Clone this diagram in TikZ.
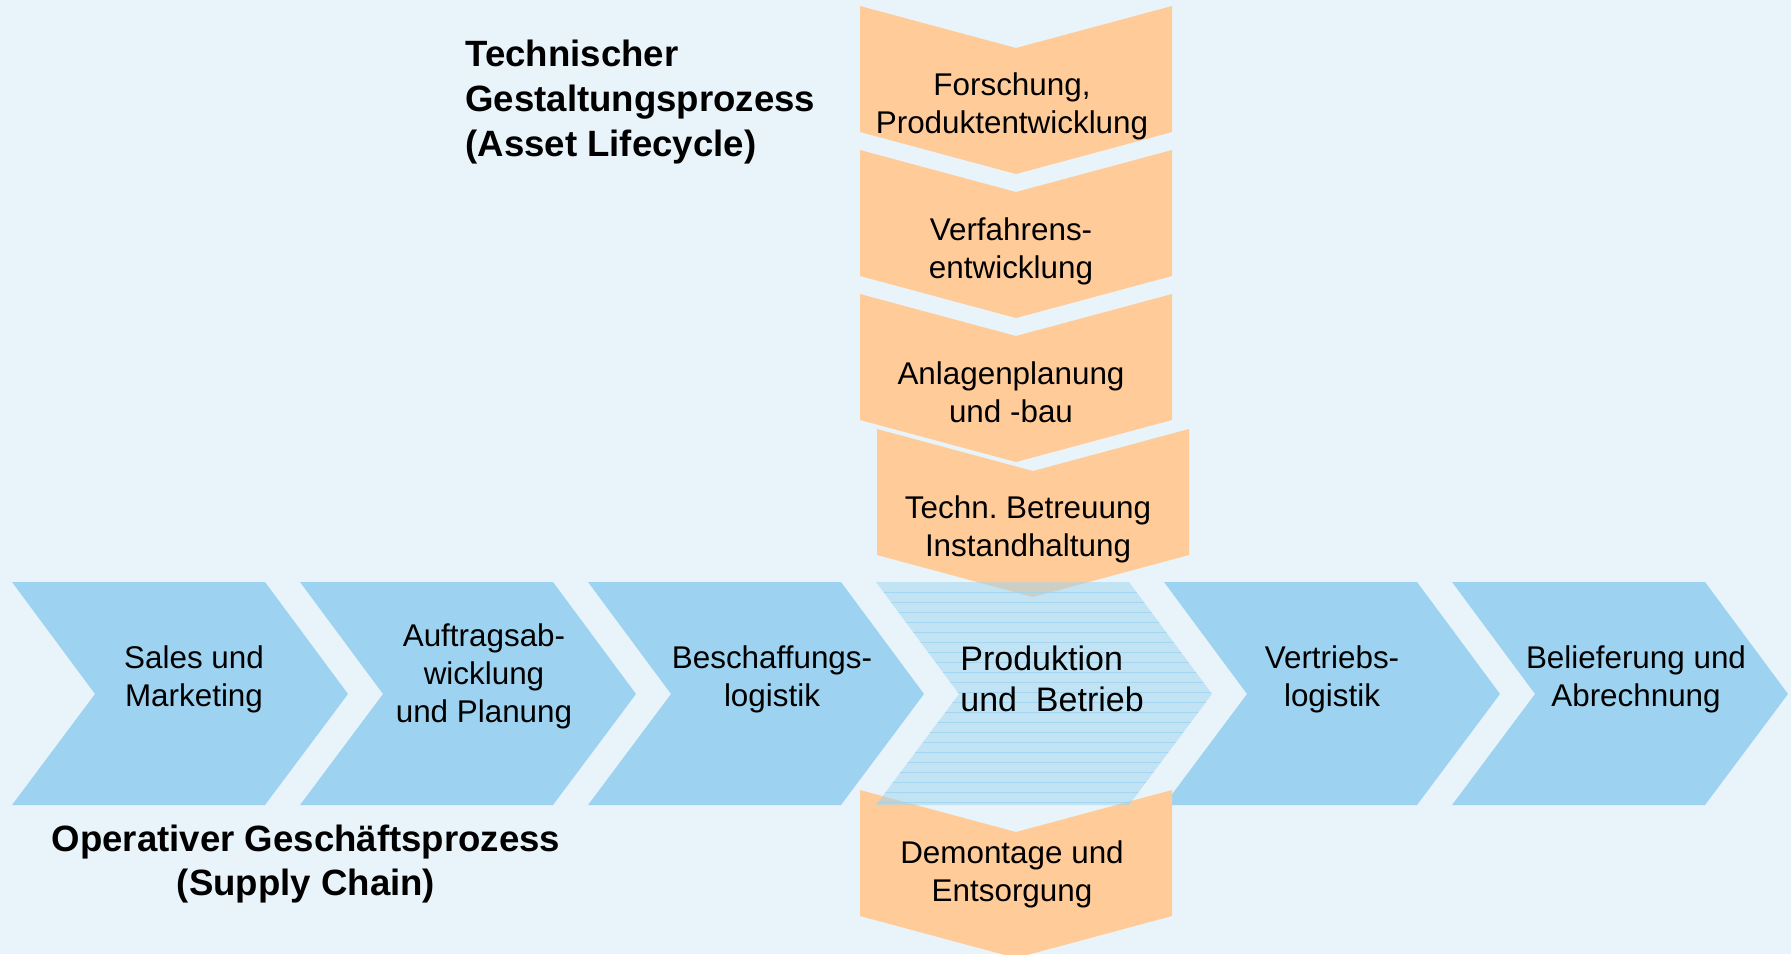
\documentclass[tikz,border=0pt]{standalone}
\usepackage{fontspec}
\setmainfont{Liberation Sans}
\definecolor{bgblue}{RGB}{232,244,250}
\definecolor{chainblue}{RGB}{157,211,240}
\definecolor{assetorange}{RGB}{255,204,153}

\begin{document}
\begin{tikzpicture}[x=0.5pt,y=-0.5pt,
  lbl/.style={align=center,inner sep=0pt,font=\fontsize{15.7}{19}\selectfont},
  ttl/.style={inner sep=0pt,font=\fontsize{18.3}{22.3}\selectfont\bfseries}]
\fill[bgblue] (0,0) rectangle (1791,954);
\useasboundingbox (0,0) rectangle (1791,954);
\foreach \x in {12,300,588,1164,1452}
\fill[chainblue] (\x,582) -- ++(253,0) -- ++(83,112) -- ++(-83,111) -- ++(-253,0) -- ++(83,-111) -- cycle;
\foreach \x/\t in {860/6,860/150,860/294,877/429,860/790}
\fill[assetorange] (\x,\t) -- ++(156,42) -- ++(156,-42) -- ++(0,126) -- ++(-156,42) -- ++(-156,-42) -- cycle;
\begin{scope}
\clip (876,582) -- ++(253,0) -- ++(83,112) -- ++(-83,111) -- ++(-253,0) -- ++(83,-111) -- cycle;
\fill[chainblue,opacity=0.5] (870,570) rectangle (1220,810);
\foreach \y in {592,602,...,802}
\draw[chainblue,opacity=0.8,line width=0.5pt] (870,\y) -- (1220,\y);
\end{scope}
\node[lbl] (sales) at (194,679) {Sales und\\Marketing};
\node[lbl] (auftrag) at (484,676) {Auftragsab-\\wicklung\\und Planung};
\node[lbl] (beschaffung) at (772,679) {Beschaffungs-\\logistik};
\node[align=left,anchor=west,inner sep=0pt,font=\fontsize{17}{20.8}\selectfont] (produktion) at (960,679) {Produktion\\und\ \ Betrieb};
\node[lbl] (vertrieb) at (1332,679) {Vertriebs-\\logistik};
\node[lbl] (belieferung) at (1636,679) {Belieferung und\\Abrechnung};
\node[lbl] (forschung) at (1012,106) {Forschung,\\Produktentwicklung};
\node[lbl] (verfahren) at (1011,251) {Verfahrens-\\entwicklung};
\node[lbl] (anlagen) at (1011,392) {Anlagenplanung\\und -bau};
\node[lbl] (betreuung) at (1028,529) {Techn.\ Betreuung\\Instandhaltung};
\node[lbl] (demontage) at (1012,874) {Demontage und\\Entsorgung};
\node[ttl,align=left,anchor=west] (technisch) at (465,102) {Technischer\\Gestaltungsprozess\\(Asset Lifecycle)};
\node[ttl,align=center,font=\fontsize{18.3}{21.7}\selectfont\bfseries] (operativ) at (306,864) {Operativer Geschäftsprozess\\(Supply Chain)};
\end{tikzpicture}
\end{document}
